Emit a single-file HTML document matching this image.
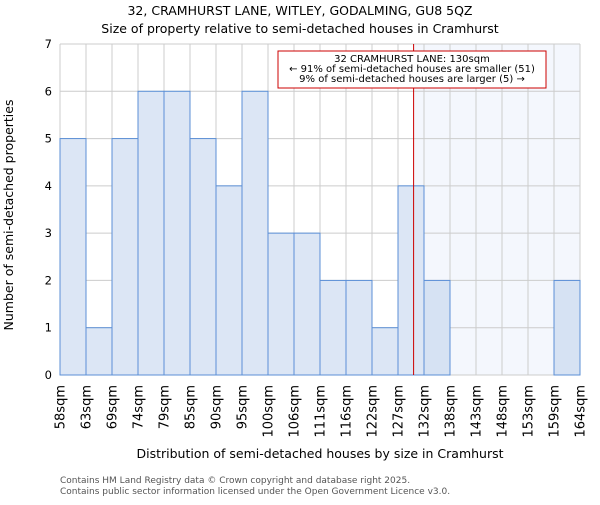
<!DOCTYPE html>
<html><head><meta charset="utf-8"><style>body{margin:0;background:#fff}svg{font-family:"DejaVu Sans","Liberation Sans",sans-serif}</style></head>
<body>
<svg id="c" width="600" height="500" xmlns="http://www.w3.org/2000/svg">
<text x="300" y="15" font-size="12.5" text-anchor="middle">32, CRAMHURST LANE, WITLEY, GODALMING, GU8 5QZ</text>
<text x="300" y="33" font-size="12.5" text-anchor="middle">Size of property relative to semi-detached houses in Cramhurst</text>
<g id="plot"></g>
<text x="320" y="458" font-size="12.5" text-anchor="middle">Distribution of semi-detached houses by size in Cramhurst</text>
<text transform="translate(13,215) rotate(-90)" font-size="12.5" text-anchor="middle">Number of semi-detached properties</text>
<text x="60" y="483" font-size="9" fill="#555">Contains HM Land Registry data © Crown copyright and database right 2025.</text>
<text x="60" y="494" font-size="9" fill="#555">Contains public sector information licensed under the Open Government Licence v3.0.</text>
</svg>
<script>
const categories=["58sqm","63sqm","69sqm","74sqm","79sqm","85sqm","90sqm","95sqm","100sqm","106sqm","111sqm","116sqm","122sqm","127sqm","132sqm","138sqm","143sqm","148sqm","153sqm","159sqm","164sqm"];
const counts=[5,1,5,6,6,5,4,6,3,3,2,2,1,4,2,0,0,0,0,2];
const yTicks=[0,1,2,3,4,5,6,7];
const markerBin=13.6;
const X0=60,X1=580,Y0=375,Y1=44,yMax=7;
const bw=(X1-X0)/counts.length;
const x=i=>X0+i*bw, y=v=>Y0-(Y0-Y1)*v/yMax;
const g=document.getElementById('plot'),NS='http://www.w3.org/2000/svg';
function mk(t,a,p){const e=document.createElementNS(NS,t);for(const k in a)e.setAttribute(k,a[k]);(p||g).appendChild(e);return e;}
const mx=x(markerBin);
let e=mk('rect',{x:mx,y:Y1,width:X1-mx,height:Y0-Y1,fill:'#f4f7fd'});


for(let i=0;i<categories.length;i++){e=mk('line',{x1:x(i),x2:x(i),y1:Y1,y2:Y0,stroke:'#ccc'});

}
yTicks.forEach(v=>{e=mk('line',{x1:X0,x2:X1,y1:y(v),y2:y(v),stroke:'#ccc'});


e=mk('text',{x:X0-8,y:y(v)+4,'font-size':11.5,'text-anchor':'end'});e.textContent=v;

});
counts.forEach((c,i)=>{if(!c)return;e=mk('rect',{x:x(i),y:y(c),width:bw,height:Y0-y(c),fill:i>=14?'#d6e2f3':'#dce6f5',stroke:'#5b8fd6','stroke-width':1});

});
categories.forEach((l,i)=>{e=mk('text',{transform:`translate(${x(i)+4.5},385) rotate(-90)`,'font-size':13,'text-anchor':'end'});e.textContent=l;

});
e=mk('line',{x1:mx,x2:mx,y1:Y1,y2:Y0,stroke:'#c00','stroke-width':1});


const ag=mk('g',{});


mk('rect',{x:278,y:51,width:268,height:37,fill:'#fff',stroke:'#c00'},ag);
["32 CRAMHURST LANE: 130sqm","← 91% of semi-detached houses are smaller (51)","9% of semi-detached houses are larger (5) →"].forEach((t,k)=>{const s=mk('text',{x:412,y:62+k*10,'font-size':10,'text-anchor':'middle'},ag);s.textContent=t;});
</script>
</body></html>
